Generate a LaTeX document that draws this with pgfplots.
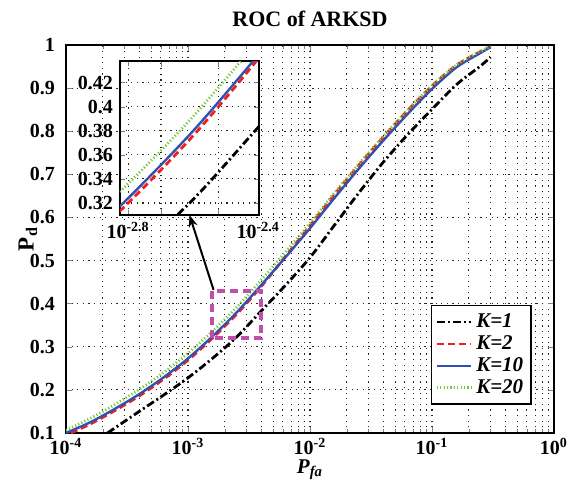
\documentclass[border=0pt]{standalone}
\usepackage{fontspec}
\setmainfont{Liberation Serif}
\usepackage{pgfplots}
\pgfplotsset{compat=1.18}
\usepackage{pgfplotstable}
\usetikzlibrary{arrows.meta}

\definecolor{cblue}{RGB}{50,80,175}
\definecolor{cred}{RGB}{240,30,30}
\definecolor{cgreen}{RGB}{120,200,60}
\definecolor{cbox}{RGB}{190,80,170}

% x = P_fa, y = P_d
\pgfplotstableread{
x y
2.188e-4 0.100
3.981e-4 0.150
6.310e-4 0.188
1.000e-3 0.228
1.585e-3 0.273
2.512e-3 0.323
3.981e-3 0.383
6.310e-3 0.443
1.000e-2 0.507
1.585e-2 0.582
2.512e-2 0.657
3.981e-2 0.728
6.310e-2 0.792
1.000e-1 0.851
1.585e-1 0.908
2.512e-1 0.952
3.020e-1 0.972
}\Kone
\pgfplotstableread{
x y
1.096e-4 0.100
1.585e-4 0.121
2.512e-4 0.152
3.981e-4 0.186
6.310e-4 0.225
1.000e-3 0.269
1.585e-3 0.320
2.512e-3 0.376
3.981e-3 0.440
6.310e-3 0.510
1.000e-2 0.581
1.585e-2 0.653
2.512e-2 0.721
3.981e-2 0.786
6.310e-2 0.848
1.000e-1 0.905
1.585e-1 0.953
2.512e-1 0.985
3.020e-1 0.996
}\Ktwo
\pgfplotstableread{
x y
1.000e-4 0.100
1.585e-4 0.125
2.512e-4 0.156
3.981e-4 0.190
6.310e-4 0.229
1.000e-3 0.273
1.585e-3 0.324
2.512e-3 0.380
3.981e-3 0.443
6.310e-3 0.508
1.000e-2 0.575
1.585e-2 0.645
2.512e-2 0.713
3.981e-2 0.778
6.310e-2 0.840
1.000e-1 0.898
1.585e-1 0.948
2.512e-1 0.982
3.020e-1 0.995
}\Kten
\pgfplotstableread{
x y
1.000e-4 0.106
1.585e-4 0.134
2.512e-4 0.166
3.981e-4 0.201
6.310e-4 0.240
1.000e-3 0.285
1.585e-3 0.336
2.512e-3 0.392
3.981e-3 0.455
6.310e-3 0.520
1.000e-2 0.587
1.585e-2 0.657
2.512e-2 0.724
3.981e-2 0.788
6.310e-2 0.849
1.000e-1 0.906
1.585e-1 0.954
2.512e-1 0.986
3.020e-1 0.997
}\Ktwenty

\pgfplotsset{
  kone/.style={black, line width=1.4pt, smooth, dash pattern=on 4pt off 1.5pt on 1pt off 1.5pt},
  ktwo/.style={cred, line width=1.4pt, smooth, dash pattern=on 3.5pt off 2pt},
  kten/.style={cblue, line width=1.2pt, smooth},
  ktwenty/.style={cgreen, line width=1.4pt, smooth, dash pattern=on 0.6pt off 1.1pt},
  mygrid/.style={dash pattern=on 0.6pt off 2.2pt, black!85, line width=0.55pt},
}

\begin{document}
\begin{tikzpicture}
\begin{axis}[
  name=main, at={(0,0)}, anchor=south west,
  scale only axis, width=244pt, height=194pt,
  xmode=log, xmin=1e-4, xmax=1, ymin=0.1, ymax=1,
  font=\bfseries\fontsize{10}{11}\selectfont,
  xtick={1e-4,1e-3,1e-2,1e-1,1},
  xticklabels={10\textsuperscript{-4},10\textsuperscript{-3},10\textsuperscript{-2},10\textsuperscript{-1},10\textsuperscript{0}},
  xticklabel style={yshift=1pt},
  yticklabel style={xshift=-2pt},
  minor xtick={2e-4,3e-4,4e-4,5e-4,6e-4,7e-4,8e-4,9e-4,2e-3,3e-3,4e-3,5e-3,6e-3,7e-3,8e-3,9e-3,2e-2,3e-2,4e-2,5e-2,6e-2,7e-2,8e-2,9e-2,2e-1,3e-1,4e-1,5e-1,6e-1,7e-1,8e-1,9e-1},
  ytick={0.1,0.2,0.3,0.4,0.5,0.6,0.7,0.8,0.9,1},
  yticklabels={0.1,0.2,0.3,0.4,0.5,0.6,0.7,0.8,0.9,1},
  tick align=inside, major tick length=3pt, minor tick length=1.8pt,
  grid=both,
  major grid style={mygrid},
  minor grid style={mygrid},
  axis line style={line width=0.8pt},
  title={ROC of ARKSD},
  title style={at={(axis description cs:0.5,1.036)}, anchor=center, font=\bfseries\fontsize{11}{12}\selectfont},
  xlabel={\textit{P\textsubscript{fa}}},
  xlabel style={at={(axis description cs:0.5,-0.094)}, anchor=center, inner sep=0pt, font=\bfseries\fontsize{10.5}{11}\selectfont},
  ylabel={P\textsubscript{d}},
  ylabel style={at={(axis description cs:-0.078,0.5)}, anchor=center, font=\bfseries\fontsize{11.5}{12}\selectfont},
  legend style={at={(0.955,0.072)}, anchor=south east, draw=black, line width=0.8pt,
    font=\bfseries\itshape\fontsize{10.5}{11}\selectfont, row sep=-1.5pt, inner xsep=2pt, inner ysep=2pt},
  legend cell align=left,
  legend image post style={line width=1.3pt, sharp plot},
]
\addplot[kone] table {\Kone};
\addlegendentry{K=1}
\addplot[ktwo] table {\Ktwo};
\addlegendentry{K=2}
\addplot[kten] table {\Kten};
\addlegendentry{K=10}
\addplot[ktwenty] table {\Ktwenty};
\addlegendentry{K=20}
\draw[cbox, line width=2pt, dash pattern=on 4pt off 2.5pt] (axis cs:1.585e-3,0.32) rectangle (axis cs:3.981e-3,0.43);
\coordinate (bx) at (axis cs:1.62e-3,0.432);
\end{axis}

\begin{axis}[
  name=inset, at={(27pt,109pt)}, anchor=south west,
  scale only axis, width=69.5pt, height=77pt,
  xmode=log, xmin=1.496e-3, xmax=4.0e-3, ymin=0.31, ymax=0.438,
  font=\bfseries\fontsize{10}{11}\selectfont,
  axis background/.style={fill=white},
  xtick={1.585e-3,3.981e-3},
  xticklabels={10\textsuperscript{-2.8},10\textsuperscript{-2.4}},
  minor xtick={2e-3,3e-3},
  ytick={0.32,0.34,0.36,0.38,0.4,0.42},
  yticklabels={0.32,0.34,0.36,0.38,0.4,0.42},
  tick align=inside, major tick length=2.5pt,
  grid=both,
  major grid style={mygrid},
  minor grid style={mygrid},
  axis line style={line width=0.8pt},
]
\addplot[kone] table {\Kone};
\addplot[ktwo] table {\Ktwo};
\addplot[kten] table {\Kten};
\addplot[ktwenty] table {\Ktwenty};
\end{axis}

\draw[-{Stealth[length=6pt,width=4.5pt]}, line width=1pt] (bx) -- (inset.south);

\pgfresetboundingbox
\path[use as bounding box] (-33pt,-23pt) rectangle (251.5pt,216.5pt);
\end{tikzpicture}
\end{document}
